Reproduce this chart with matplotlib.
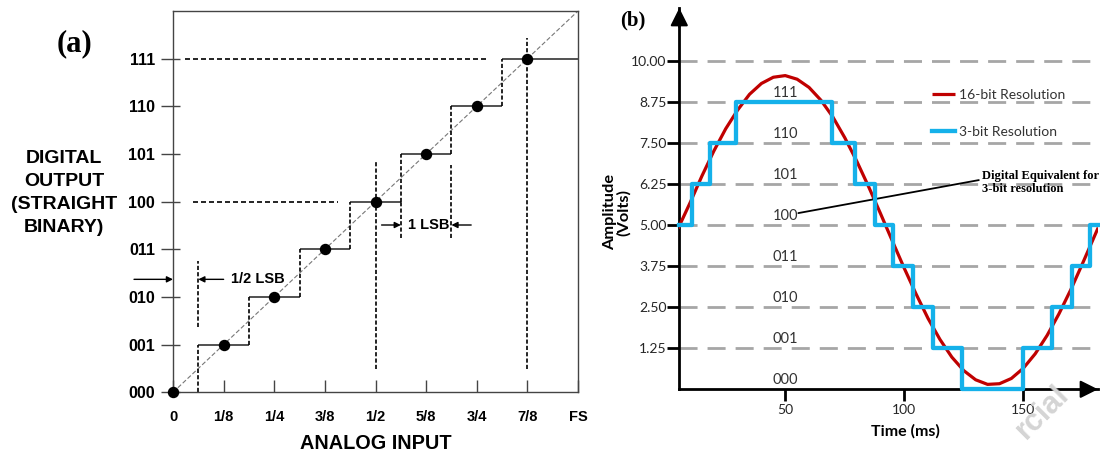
import matplotlib
matplotlib.use("Agg")
import matplotlib.pyplot as plt
from matplotlib.ticker import FixedLocator

plt.rcParams.update({"font.family": "Liberation Sans", "font.weight": "bold"})

W, H = 1100, 455

def fx(px):
    return px / W

def fy(py):
    return 1 - py / H

# ---- panel (a): ideal 3-bit transfer function ----
codes = [0, 1, 2, 3, 4, 5, 6, 7]
x_labels = ["0", "1/8", "1/4", "3/8", "1/2", "5/8", "3/4", "7/8", "FS"]
y_labels = ["000", "001", "010", "011", "100", "101", "110", "111"]
step_start = [0.5, 1.5, 2.5, 3.5, 4.5, 5.5, 6.5]
step_end = [1.5, 2.5, 3.5, 4.5, 5.5, 6.5, 8.0]
ref_h_y = [7, 4]
ref_h_x0 = [0.24, 0.39]
ref_h_x1 = [6.25, 3.26]
ref_v_x = [4, 7, 0.5, 4.5, 5.5]
ref_v_y0 = [0.49, 0.49, 1.36, 3.23, 3.23]
ref_v_y1 = [4.83, 7.44, 2.75, 4.0, 4.77]
arrow_tail = [(-0.77, 2.37), (1.0, 2.37), (4.12, 3.51), (5.89, 3.51)]
arrow_head = [(0.0, 2.37), (0.5, 2.37), (4.5, 3.51), (5.5, 3.51)]

# ---- panel (b): 16-bit vs 3-bit sampling ----
t_ms = [5, 10, 15, 20, 25, 30, 35, 40, 45, 50, 55, 60, 65, 70, 75, 80, 85, 90,
        95, 100, 105, 110, 115, 120, 125, 130, 135, 140, 145, 150, 155, 160,
        165, 170, 175, 180, 181.5]
v_16bit = [4.90, 5.68, 6.50, 7.26, 7.94, 8.51, 8.99, 9.32, 9.51, 9.56, 9.45,
           9.20, 8.81, 8.30, 7.67, 6.96, 6.18, 5.36, 4.52, 3.69, 2.90, 2.16,
           1.52, 0.98, 0.57, 0.29, 0.15, 0.17, 0.33, 0.64, 1.08, 1.64, 2.30,
           3.04, 3.85, 4.68, 4.93]
t_edges = [5.5, 10.7, 18.4, 29.3, 69.7, 79.3, 87.7, 95.4, 103.5, 111.9, 124.1,
           149.7, 161.9, 170.6, 178.0, 181.5]
v_3bit = [5.0, 6.25, 7.5, 8.75, 7.5, 6.25, 5.0, 3.75, 2.5, 1.25, 0.0, 1.25,
          2.5, 3.75, 5.0]
levels = [1.25, 2.5, 3.75, 5.0, 6.25, 7.5, 8.75, 10.0]
code_levels = [0.0, 1.25, 2.5, 3.75, 5.0, 6.25, 7.5, 8.75]

fig = plt.figure(figsize=(11, 4.55), dpi=100)

# ================= (a) =================
ax1 = fig.add_axes([fx(173), fy(392.3), (578 - 173) / W, (392.3 - 11) / H])
ax1.set_xlim(0, 8)
ax1.set_ylim(0, 8)
for s in ax1.spines.values():
    s.set_color("#444444")
    s.set_linewidth(1.0)

ax1.plot([0, 8], [0, 8], color="#777777", lw=0.8, dashes=(4, 2), zorder=1)
ax1.hlines(codes[1:], step_start, step_end, color="#333333", lw=1.2, zorder=2)
ax1.vlines(step_start, codes[:-1], codes[1:], color="black", lw=1.2,
           linestyles=(0, (2.5, 1.3)), zorder=2)
ax1.hlines(ref_h_y, ref_h_x0, ref_h_x1, color="black", lw=1.2,
           linestyles=(0, (3.0, 1.8)))
ax1.vlines(ref_v_x, ref_v_y0, ref_v_y1, color="black", lw=1.2,
           linestyles=(0, (2.5, 1.3)))
ax1.plot(codes, codes, "o", color="black", ms=7.2, zorder=5, clip_on=False)

for tail, head in zip(arrow_tail, arrow_head):
    ax1.annotate("", xy=head, xytext=tail, annotation_clip=False,
                 arrowprops=dict(arrowstyle="-|>", color="black", lw=1.0,
                                 shrinkA=0, shrinkB=0, mutation_scale=9))
ax1.text(1.14, 2.37, "1/2 LSB", ha="left", va="center", fontsize=10.5,
         fontweight="bold")
ax1.text(5.05, 3.51, "1 LSB", ha="center", va="center", fontsize=10.5,
         fontweight="bold")

ax1.set_xticks(range(9))
ax1.set_xticklabels(x_labels, fontsize=10.5, fontweight="bold")
ax1.tick_params(axis="x", direction="in", length=8.6, width=1, color="#444444",
                pad=13)
ax1.set_yticks(codes)
ax1.set_yticklabels(y_labels, fontsize=11.5, fontweight="bold")
ax1.tick_params(axis="y", which="major", direction="out", length=9, width=1,
                color="#444444", pad=4)
ax1.yaxis.remove_overlapping_locs = False
ax1.yaxis.set_minor_locator(FixedLocator(codes))
ax1.tick_params(axis="y", which="minor", direction="in", length=4.7, width=1,
                color="#444444")

ax1.set_xlabel("ANALOG INPUT", fontsize=14.3, fontweight="bold", va="center")
ax1.xaxis.set_label_coords(0.501, -0.133)
ax1.set_ylabel("DIGITAL\nOUTPUT\n(STRAIGHT\nBINARY)", fontsize=14,
               fontweight="bold", rotation=0, ha="center", va="center",
               linespacing=1.45)
ax1.yaxis.set_label_coords(-0.269, 0.522)

fig.text(fx(74), fy(44), "(a)", family="Liberation Serif", fontweight="bold",
         fontsize=22, ha="center", va="center")

# ================= (b) =================
ax2 = fig.add_axes([fx(679.3), fy(389.3), (1098 - 679.3) / W, (389.3 - 8) / H])
ax2.set_xlim(5.5, 181.4)
ax2.set_ylim(0, 11.62)
ax2.spines["top"].set_visible(False)
ax2.spines["right"].set_visible(False)
for side in ["left", "bottom"]:
    ax2.spines[side].set_linewidth(2)
    ax2.spines[side].set_color("black")

for lv in levels:
    ax2.axhline(lv, color="#a6a6a6", lw=2, dashes=(6.5, 3.6), zorder=1)

red, = ax2.plot(t_ms, v_16bit, color="#c00000", lw=2.3, zorder=3,
                solid_capstyle="butt")
blue, = ax2.step(t_edges, v_3bit + [v_3bit[-1]], where="post",
                 color="#15b1ea", lw=3.1, zorder=4, clip_on=False)

for lv, c in zip(code_levels, y_labels):
    ax2.text(50, lv + 0.28, c, ha="center", va="center", family="Lato",
             fontweight="normal", fontsize=10.5, color="#333333")

ax2.legend(handles=[red, blue], labels=["16-bit Resolution", "3-bit Resolution"],
           loc="center left", bbox_to_anchor=(0.603, 0.7233), frameon=False,
           handlelength=1.7, handletextpad=0.25, labelspacing=1.75,
           borderpad=0, borderaxespad=0, labelcolor="#333333",
           prop=dict(family="Lato", size=10, weight="normal"))

ax2.annotate("Digital Equivalent for\n3-bit resolution", xy=(55.5, 5.37),
             xytext=(132.5, 6.3), ha="left", va="center",
             family="Liberation Serif", fontweight="bold", fontsize=9,
             linespacing=1.1,
             arrowprops=dict(arrowstyle="-", color="black", lw=1.3,
                             shrinkA=0, shrinkB=0, relpos=(0, 0.62)))

for xy, xyt in [((1, 0), (0.96, 0)), ((0, 1), (0, 0.95))]:
    ax2.annotate("", xy=xy, xytext=xyt, xycoords="axes fraction",
                 annotation_clip=False,
                 arrowprops=dict(arrowstyle="-|>,head_length=0.9,head_width=0.45",
                                 color="black", lw=1.5, shrinkA=0, shrinkB=0,
                                 mutation_scale=12))

ax2.set_yticks(levels)
ax2.set_yticklabels([f"{v:.2f}" for v in levels], family="Lato",
                    fontweight="normal", fontsize=10, color="#262626")
ax2.set_xticks([50, 100, 150])
ax2.set_xticklabels(["50", "100", "150"], family="Lato", fontweight="normal",
                    fontsize=10, color="#262626")
ax2.tick_params(axis="both", direction="out", length=8.6, width=2,
                color="black")
ax2.tick_params(axis="y", pad=0.5)
ax2.tick_params(axis="x", pad=2)

ax2.set_xlabel("Time (ms)", family="Lato", fontweight="bold", fontsize=11.5,
               va="center")
ax2.xaxis.set_label_coords(0.539, -0.111)
fig.text(fx(617), fy(212), "Amplitude\n(Volts)", rotation=90, ha="center",
         va="center", family="Lato", fontweight="bold", fontsize=11.8,
         linespacing=1.0)

fig.text(fx(632.7), fy(20), "(b)", family="Liberation Serif",
         fontweight="bold", fontsize=15, ha="center", va="center")

fig.text(fx(1042), fy(412), "rcial", rotation=45, color="#d4d4d4",
         fontsize=22, fontweight="bold", ha="center", va="center", zorder=0)

fig.savefig("out.png", dpi=100)
